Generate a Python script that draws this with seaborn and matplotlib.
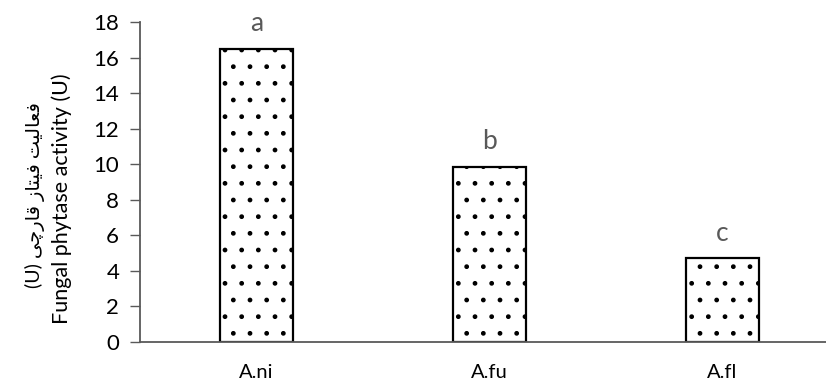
import matplotlib
matplotlib.use("Agg")
import matplotlib.pyplot as plt
import seaborn as sns
import pandas as pd

categories = ["A.ni", "A.fu", "A.fl"]
values = [16.5, 9.85, 4.7]
letters = ["a", "b", "c"]
yticks = [0, 2, 4, 6, 8, 10, 12, 14, 16, 18]
label_fa = "فعالیت فیتاز قارچی (U)"
label_en = "Fungal phytase activity (U)"

# minimal Persian shaping (presentation forms) for display
FORMS = {
    'ف': (0xFED1, 0xFED2, 0xFED3, 0xFED4),
    'ع': (0xFEC9, 0xFECA, 0xFECB, 0xFECC),
    'ا': (0xFE8D, 0xFE8E),
    'ل': (0xFEDD, 0xFEDE, 0xFEDF, 0xFEE0),
    'ی': (0xFBFC, 0xFBFD, 0xFBFE, 0xFBFF),
    'ت': (0xFE95, 0xFE96, 0xFE97, 0xFE98),
    'ز': (0xFEAF, 0xFEB0),
    'ق': (0xFED5, 0xFED6, 0xFED7, 0xFED8),
    'ر': (0xFEAD, 0xFEAE),
    'چ': (0xFB7A, 0xFB7B, 0xFB7C, 0xFB7D),
}

def shape_word(w):
    if not any(c in FORMS for c in w):
        return w
    out = []
    for i, c in enumerate(w):
        if c not in FORMS:
            out.append(c)
            continue
        prev = w[i - 1] if i > 0 else None
        nxt = w[i + 1] if i < len(w) - 1 else None
        jp = prev in FORMS and len(FORMS[prev]) == 4
        jn = len(FORMS[c]) == 4 and nxt in FORMS
        f = FORMS[c]
        if jp and jn:
            ch = f[3]
        elif jp:
            ch = f[1]
        elif jn:
            ch = f[2]
        else:
            ch = f[0]
        out.append(chr(ch))
    return "".join(reversed(out))

def visual_rtl(s):
    return " ".join(shape_word(w) for w in reversed(s.split(" ")))

sns.set_style("white")
plt.rcParams["font.family"] = ["Lato", "DejaVu Sans"]
plt.rcParams["hatch.linewidth"] = 1.0

df = pd.DataFrame({"cat": categories, "val": values})

fig = plt.figure(figsize=(8.26, 3.83), dpi=100)
ax = fig.add_axes([140 / 826, 1 - 342 / 383, 699 / 826, 320 / 383])

sns.barplot(data=df, x="cat", y="val", ax=ax, width=0.31, color="white",
            edgecolor="black", linewidth=1.6, saturation=1)
for p in ax.patches:
    p.set_hatch(".")
    p.set_facecolor("white")
    p.set_edgecolor("black")

for i, (v, t) in enumerate(zip(values, letters)):
    ax.text(i, v + 1.0, t, ha="center", va="baseline", fontsize=19, color="#595959")

ax.set_ylim(0, 18)
ax.set_xlim(-0.5, 2.5)
ax.set_yticks(yticks)
ax.tick_params(axis="y", length=7, width=1, color="#595959", labelsize=16, labelcolor="black", pad=8, left=True)
ax.tick_params(axis="x", length=0, labelsize=14.5, labelcolor="black", pad=16)
ax.set_xlabel("")
ax.set_ylabel("")
for s in ["top", "right"]:
    ax.spines[s].set_visible(False)
for s in ["left", "bottom"]:
    ax.spines[s].set_color("#595959")
    ax.spines[s].set_linewidth(1.3)

fig.text(35 / 826, 1 - 195 / 383, visual_rtl(label_fa), rotation=90, ha="center", va="center",
         fontsize=14, color="black")
fig.text(62 / 826, 1 - 199 / 383, label_en, rotation=90, ha="center", va="center",
         fontsize=15.5, color="black")

fig.savefig("out.png", dpi=100)
